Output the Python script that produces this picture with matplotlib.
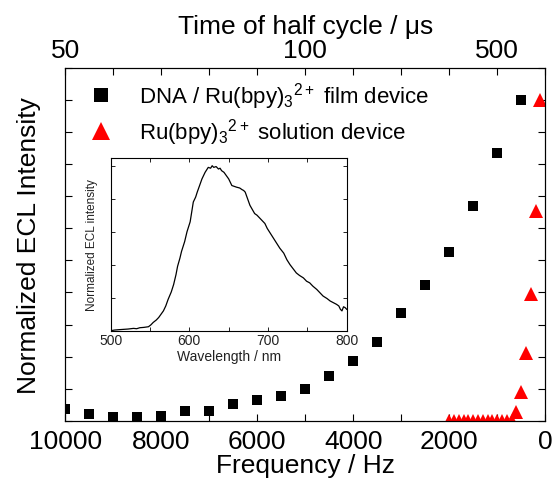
import numpy as np
import matplotlib.pyplot as plt
from matplotlib.ticker import MultipleLocator, FixedLocator, NullFormatter

plt.rcParams.update({
    "font.family": "Liberation Sans",
    "mathtext.fontset": "custom",
    "mathtext.rm": "Liberation Sans",
    "mathtext.it": "Liberation Sans:italic",
    "xtick.direction": "in",
    "ytick.direction": "in",
})

# ECL intensity vs. driving frequency
freq_film = [10000, 9500, 9000, 8500, 8000, 7500, 7000, 6500, 6000, 5500,
             5000, 4500, 4000, 3500, 3000, 2500, 2000, 1500, 1000, 500]
ecl_film = [0.036, 0.021, 0.010, 0.013, 0.015, 0.030, 0.031, 0.052, 0.064, 0.077,
            0.099, 0.139, 0.185, 0.244, 0.335, 0.422, 0.526, 0.669, 0.834, 1.0]

freq_sol = [2000, 1900, 1800, 1700, 1600, 1500, 1400, 1300, 1200, 1100,
            1000, 900, 800, 700, 600, 500, 400, 300, 200, 100]
ecl_sol = [0, 0, 0, 0, 0, 0, 0, 0, 0, 0,
           0, 0, 0, 0, 0.027, 0.089, 0.211, 0.394, 0.655, 1.0]

# top axis labels (half-cycle time, us)
half_cycle = [50, 100, 500]

# ECL spectrum of the film device
wavelength = [500, 505, 510, 516, 522, 529, 533, 537, 542, 548, 551, 554, 558, 561,
              564, 567, 570, 573, 577, 580, 583, 585, 588, 590, 594, 597, 601, 603,
              605, 608, 610, 613, 616, 618, 620, 622, 624, 627, 629, 631, 634, 637,
              639, 641, 644, 647, 650, 652, 654, 657, 660, 664, 667, 669, 671, 674,
              677, 680, 683, 686, 690, 693, 696, 699, 703, 707, 711, 715, 720, 724,
              728, 732, 736, 740, 745, 749, 753, 757, 762, 766, 770, 775, 779, 783,
              787, 790, 792, 794, 796, 798, 800]
spectrum = [0.0, 0.004, 0.006, 0.008, 0.010, 0.014, 0.012, 0.018, 0.020, 0.024, 0.035,
            0.050, 0.065, 0.080, 0.100, 0.120, 0.150, 0.190, 0.235, 0.280, 0.340,
            0.390, 0.440, 0.480, 0.540, 0.600, 0.660, 0.720, 0.780, 0.810, 0.840,
            0.880, 0.920, 0.940, 0.960, 0.975, 0.990, 0.985, 1.000, 0.990, 0.995,
            0.980, 0.985, 0.970, 0.960, 0.940, 0.920, 0.900, 0.880, 0.875, 0.870,
            0.865, 0.855, 0.850, 0.840, 0.800, 0.760, 0.735, 0.710, 0.700, 0.680,
            0.665, 0.650, 0.620, 0.590, 0.560, 0.530, 0.500, 0.470, 0.430, 0.400,
            0.375, 0.350, 0.335, 0.320, 0.300, 0.290, 0.270, 0.250, 0.230, 0.210,
            0.195, 0.180, 0.170, 0.160, 0.150, 0.130, 0.120, 0.145, 0.140, 0.130]

fig = plt.figure(figsize=(5.53, 4.81), dpi=100)
ax = fig.add_axes([0.118, 0.1233, 0.868, 0.7332])

ax.plot(freq_film, ecl_film, 's', color='k', ms=7.2, mew=0,
        label='DNA / Ru(bpy)$_3$$^{2+}$ film device')
ax.plot(freq_sol, ecl_sol, '^', color='red', ms=9.5, mew=0,
        label='Ru(bpy)$_3$$^{2+}$ solution device')

ax.set_xlim(10000, 0)
ax.set_ylim(0, 1.1)
ax.xaxis.set_major_locator(MultipleLocator(2000))
ax.xaxis.set_minor_locator(MultipleLocator(1000))
ax.set_yticks(np.arange(0, 1.11, 0.1))
ax.set_yticklabels([])
ax.tick_params(which='both', right=True, length=5, width=0.8)
ax.tick_params(axis='x', labelsize=19, pad=6)
ax.set_xlabel('Frequency / Hz', fontsize=19, labelpad=0)
ax.set_ylabel('Normalized ECL Intensity', fontsize=19, labelpad=14)

ax.legend(loc='upper left', bbox_to_anchor=(0.005, 1.01), frameon=False,
          fontsize=16, markerscale=1.35, handletextpad=0.9, handlelength=1.6,
          labelspacing=0.25, borderaxespad=0.3)

# half-cycle time axis on top
top = ax.twiny()
top.set_xlim(ax.get_xlim())
top.xaxis.set_major_locator(FixedLocator([1e6 / (2 * t) for t in half_cycle]))
top.set_xticklabels([str(t) for t in half_cycle])
top.xaxis.set_minor_locator(MultipleLocator(1000))
top.tick_params(which='both', length=5, width=0.8, labelsize=19, pad=4)
top.set_xlabel('Time of half cycle / μs', fontsize=19, labelpad=4)

# inset spectrum
ins = fig.add_axes([0.2002, 0.3104, 0.4267, 0.3584])
ins.plot(wavelength, spectrum, color='k', lw=0.9)
ins.set_xlim(500, 800)
ins.set_ylim(0, 1.045)
ins.xaxis.set_major_locator(MultipleLocator(100))
ins.xaxis.set_minor_locator(MultipleLocator(50))
ins.set_yticks(np.arange(0, 1.01, 0.2))
ins.yaxis.set_major_formatter(NullFormatter())
ins.tick_params(which='both', top=True, right=True, length=3, width=0.7,
                labelsize=10, colors='#222222', pad=2)
ins.set_xlabel('Wavelength / nm', fontsize=10, color='#222222', labelpad=1)
ins.set_ylabel('Normalized ECL intensity', fontsize=8.5, color='#222222', labelpad=7)
for s in ins.spines.values():
    s.set_linewidth(0.8)

fig.savefig('out.png', dpi=100)
